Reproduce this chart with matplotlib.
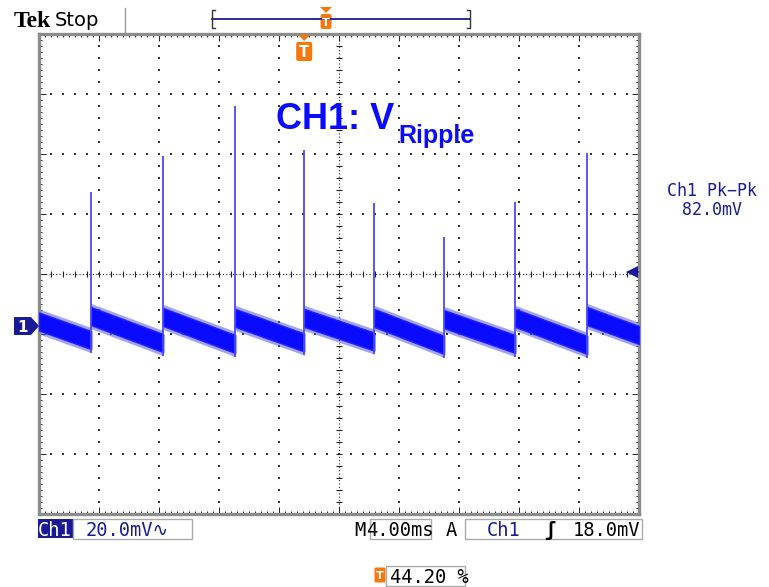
import matplotlib
import numpy as np

matplotlib.use("Agg")
import matplotlib.pyplot as plt  # noqa: E402
from matplotlib.patches import Polygon, FancyBboxPatch, Rectangle  # noqa: E402

# scope settings
VOLTS_DIV = 20.0        # mV / div
TIME_DIV = 4.0          # ms / div
TRIG_POS = 0.442        # trigger position (fraction of record)
TRIG_LEVEL = 18.0       # mV
GND_DIV = 3.133         # ground marker height above screen bottom (div)
PK_PK = 82.0

# ripple trace (ms, mV)
spike_t = [-14.2, -9.4, -4.6, 0.0, 4.67, 9.33, 14.07, 18.87]
spike_pk = [44.7, 56.7, 73.3, 58.7, 41.0, 29.7, 41.3, 57.7]
seg_start_mv = [1.5, 3.3, 3.0, 2.7, 2.7, 2.7, 2.3, 2.7, 3.3]
seg_end_mv = [-4.7, -5.7, -6.0, -5.5, -5.2, -6.3, -6.0, -6.3, -3.0]
noise_mv = 3.0
noise_pk_mv = 4.2

NAVY = "#1a1a96"
TRACE = "#0a0aff"
ORANGE = "#f5780f"
W, H = 769, 587

fig = plt.figure(figsize=(W / 100, H / 100), dpi=100)
fig.patch.set_facecolor("white")

# screen: 10 x 8 div, 60 px per div
x0, y0, sw, sh = 39, 34, 600, 480
ax = fig.add_axes([x0 / W, 1 - (y0 + sh) / H, sw / W, sh / H])
t_left = -TRIG_POS * 10 * TIME_DIV
t_right = t_left + 10 * TIME_DIV
v_bot = -GND_DIV * VOLTS_DIV
v_top = v_bot + 8 * VOLTS_DIV
ax.set_xlim(t_left, t_right)
ax.set_ylim(v_bot, v_top)

# graticule
dots = np.arange(0, 10.001, 0.2)
tx = t_left + dots * TIME_DIV
vy = v_bot + np.arange(0, 8.001, 0.2) * VOLTS_DIV
for k in range(1, 8):
    if k != 4:
        ax.plot(tx, np.full_like(tx, v_bot + k * VOLTS_DIV), ls="none",
                marker="s", ms=1.5, mew=0, color="#333333", zorder=1)
for k in range(1, 10):
    if k != 5:
        ax.plot(np.full_like(vy, t_left + k * TIME_DIV), vy, ls="none",
                marker="s", ms=1.5, mew=0, color="#333333", zorder=1)
tc = t_left + 5 * TIME_DIV
vc = v_bot + 4 * VOLTS_DIV
ax.axhline(vc, color="#222222", lw=0.8, ls=(0, (1, 2)), zorder=1)
ax.axvline(tc, color="#222222", lw=0.8, ls=(0, (1, 2)), zorder=1)
ax.plot(tx, np.full_like(tx, vc), ls="none", marker="|", ms=5, mew=0.8,
        color="#222222", zorder=1)
ax.plot(np.full_like(vy, tc), vy, ls="none", marker="_", ms=5, mew=0.8,
        color="#222222", zorder=1)

ax.set_xticks(tx[::5])
ax.set_xticks(t_left + np.arange(0, 10.001, 0.1) * TIME_DIV, minor=True)
ax.set_yticks(vy[::5])
ax.set_yticks(v_bot + np.arange(0, 8.001, 0.1) * VOLTS_DIV, minor=True)
ax.tick_params(which="both", direction="in", top=True, right=True,
               labelbottom=False, labelleft=False, color="#222222", width=0.7)
ax.tick_params(which="major", length=5)
ax.tick_params(which="minor", length=2.5)
for s in ax.spines.values():
    s.set_color("#8c8c8c")
    s.set_linewidth(2.4)

# ripple trace: sawtooth band between spikes
edges = [t_left] + spike_t + [t_right]
for i in range(len(seg_start_mv)):
    ts = [edges[i], edges[i + 1]]
    mid = np.array([seg_start_mv[i], seg_end_mv[i]])
    ax.fill_between(ts, mid - noise_pk_mv, mid + noise_pk_mv,
                    color="#5a5aff", alpha=0.55, lw=0, zorder=2)
    ax.fill_between(ts, mid - noise_mv, mid + noise_mv, color=TRACE,
                    lw=1.0, edgecolor="#2020ff", zorder=3)
ax.vlines(spike_t, np.array(seg_end_mv[:-1]) - noise_pk_mv, spike_pk,
          color="#4848ff", lw=1.3, zorder=3)

# trigger level arrow (right edge)
ax.plot([t_right - 0.5], [TRIG_LEVEL], marker="<", ms=9, color=NAVY,
        mew=0, zorder=4)
ax.plot([t_right - 0.5, t_right], [TRIG_LEVEL, TRIG_LEVEL], color=NAVY,
        lw=1.2, zorder=4)

# overlay in pixel coordinates for the scope readouts
ov = fig.add_axes([0, 0, 1, 1], zorder=5)
ov.set_xlim(0, W)
ov.set_ylim(H, 0)
ov.axis("off")
ov.patch.set_alpha(0)


def to_px(t, v):
    dx, dy = ax.transData.transform((t, v))
    return dx, H - dy


mono = ["DejaVu Sans Mono", "DejaVu Sans", "Noto Sans", "Noto Sans CJK JP"]

# top bar
ov.text(14, 27, "Tek", family="Liberation Serif", weight="bold", fontsize=17,
        color="black", va="baseline")
ov.text(55, 26, "Stop", family="DejaVu Sans", fontsize=14, color="black",
        va="baseline")
ov.plot([125, 125], [8, 32], color="#999999", lw=1)
bx0, bx1, by = 212, 470, 19
ov.plot([bx0, bx1], [by, by], color=NAVY, lw=1.3)
ov.plot([bx0 + 3, bx0, bx0, bx0 + 3], [10, 10, 28, 28], color="#333333", lw=1)
ov.plot([bx1 - 3, bx1, bx1, bx1 - 3], [10, 10, 28, 28], color="#333333", lw=1)


def t_marker(xc, ytop, h=17, w=14):
    ov.add_patch(Polygon([(xc - 6, ytop - 7), (xc + 6, ytop - 7),
                          (xc, ytop - 1)], color=ORANGE, lw=0))
    ov.add_patch(FancyBboxPatch((xc - w / 2 + 2, ytop + 2), w - 4, h - 4,
                                boxstyle="round,pad=2", color=ORANGE, lw=0))
    ov.text(xc, ytop + h / 2 + 1, "T", color="white", weight="bold",
            fontsize=h * 0.55, ha="center", va="center", family="DejaVu Sans")


t_marker(bx0 + TRIG_POS * (bx1 - bx0), 14, h=15, w=11)
trig_x, _ = to_px(0.0, 0.0)
t_marker(trig_x, 42, h=19, w=16)

# ground marker "1"
_, gy = to_px(t_left, 0.0)
ov.add_patch(Polygon([(14, gy - 9), (31, gy - 9), (39, gy), (31, gy + 9),
                      (14, gy + 9)], color=NAVY, lw=0))
ov.text(23, gy + 1, "1", color="white", weight="bold", fontsize=11,
        ha="center", va="center", family="DejaVu Sans")

# title
ov.text(276, 129, "CH1: V", family="Liberation Sans", weight="bold",
        fontsize=26, color=TRACE, va="baseline")
ov.text(398, 143, "Ripple", family="Liberation Sans", weight="bold",
        fontsize=18, color=TRACE, va="baseline")

# measurement readout
ov.text(712, 196, "Ch1 Pk\u2212Pk", family=mono, fontsize=12, color=NAVY,
        ha="center", va="baseline")
ov.text(712, 215, f"{PK_PK:.1f}mV", family=mono, fontsize=12, color=NAVY,
        ha="center", va="baseline")

# bottom readouts
row = 536
ov.add_patch(Rectangle((38, 519), 35, 19, color=NAVY, lw=0))
ov.text(55, row, "Ch1", family=mono, fontsize=13.5, color="white",
        ha="center", va="baseline")
ov.add_patch(Rectangle((73, 519), 119, 20, fill=False, ec="#aaaaaa", lw=1))
ov.text(86, row, f"{VOLTS_DIV:.1f}mV\u223f", family=mono, fontsize=13.5,
        color=NAVY, va="baseline")
ov.text(354, row, "M", family=mono, fontsize=13.5, color="black",
        va="baseline")
ov.add_patch(Rectangle((370, 519), 61, 20, fill=False, ec="#aaaaaa", lw=1))
ov.text(400, row, f"{TIME_DIV:.2f}ms", family=mono, fontsize=13.5,
        color="black", ha="center", va="baseline")
ov.text(446, row, "A", family=mono, fontsize=13.5, color="black",
        va="baseline")
ov.add_patch(Rectangle((465, 519), 177, 20, fill=False, ec="#aaaaaa", lw=1))
ov.text(487, row, "Ch1", family=mono, fontsize=13.5, color=NAVY,
        va="baseline")
ov.text(544, row, "\u0283", family=mono, fontsize=13.5, color="black",
        va="baseline", weight="bold")
ov.text(640, row, f"{TRIG_LEVEL:.1f}mV", family=mono, fontsize=13.5,
        color="black", ha="right", va="baseline")

ov.add_patch(FancyBboxPatch((376, 569), 8, 12, boxstyle="round,pad=1.5",
                            color=ORANGE, lw=0))
ov.text(380, 576, "T", color="white", weight="bold", fontsize=8,
        ha="center", va="center", family="DejaVu Sans")
ov.add_patch(Rectangle((386, 566), 79, 20, fill=False, ec="#aaaaaa", lw=1))
ov.text(390, 583, f"{TRIG_POS * 100:.2f} %", family=mono, fontsize=13.5,
        color="black", va="baseline")

fig.savefig("out.png", dpi=100)
